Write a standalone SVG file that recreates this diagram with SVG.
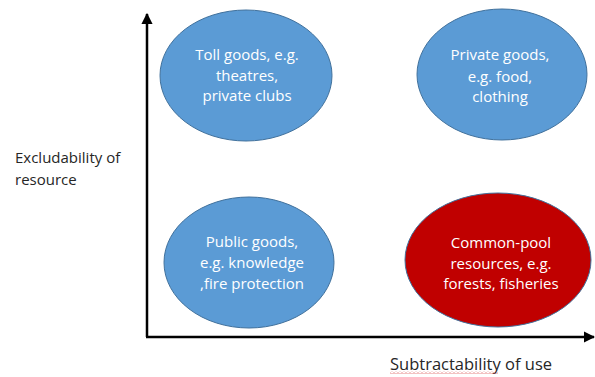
<svg xmlns="http://www.w3.org/2000/svg" width="595" height="377" viewBox="0 0 595 377">
  <style>
    .good { stroke: #41719C; stroke-width: 1; }
    .blue { fill: #5B9BD5; }
    .red { fill: #C00000; }
    .label { font-family: "Open Sans", "Liberation Sans", sans-serif; font-size: 15px; fill: #FFFFFF; text-anchor: middle; }
    .axis-title { font-family: "Open Sans", "Liberation Sans", sans-serif; font-size: 15px; fill: #262626; }
    .axis { stroke: #000000; stroke-width: 2.5; fill: none; }
  </style>
  <defs>
    <marker id="arrow" viewBox="0 0 10 10" refX="9" refY="5" markerWidth="4.6" markerHeight="4.6" orient="auto" markerUnits="strokeWidth">
      <path d="M0,0 L10,5 L0,10 Z" fill="#000000"/>
    </marker>
    <!-- one period of the spell-check squiggle -->
    <pattern id="squiggle" x="0" y="0" width="4" height="3" patternUnits="userSpaceOnUse">
      <path d="M0,2.5 L2,0.5 L4,2.5" fill="none" stroke="#E06666" stroke-width="0.8"/>
    </pattern>
  </defs>
  <rect width="595" height="377" fill="#FFFFFF"/>

  <g id="connectors">
    <path class="axis" d="M147,337 L147,14" marker-end="url(#arrow)"/>
    <path class="axis" d="M146,337 L594,337" marker-end="url(#arrow)"/>
  </g>

  <g id="toll-goods">
    <ellipse class="good blue" cx="246" cy="75.5" rx="86" ry="65.5"/>
    <text class="label" x="247" y="60">Toll goods, e.g.</text>
    <text class="label" x="247" y="81">theatres,</text>
    <text class="label" x="247" y="101">private clubs</text>
  </g>

  <g id="private-goods">
    <ellipse class="good blue" cx="502" cy="74.5" rx="85" ry="65.5"/>
    <text class="label" x="500" y="60">Private goods,</text>
    <text class="label" x="500" y="82">e.g. food,</text>
    <text class="label" x="500" y="102">clothing</text>
  </g>

  <g id="public-goods">
    <ellipse class="good blue" cx="249" cy="262.5" rx="85" ry="65.5"/>
    <text class="label" x="252" y="247">Public goods,</text>
    <text class="label" x="252" y="268">e.g. knowledge</text>
    <text class="label" x="252" y="289">,fire protection</text>
  </g>

  <g id="common-pool">
    <ellipse class="good red" cx="498" cy="260" rx="93" ry="67"/>
    <text class="label" x="501" y="248">Common-pool</text>
    <text class="label" x="501" y="269">resources, e.g.</text>
    <text class="label" x="501" y="289">forests, fisheries</text>
  </g>

  <g id="axis-titles">
    <text class="axis-title" x="15" y="163">Excludability of</text>
    <text class="axis-title" x="15" y="185">resource</text>
    <text class="axis-title" x="390" y="370" style="font-size:16.5px">Subtractability of use</text>
    <!-- spell-check squiggle under the first word -->
    <rect x="390" y="371" width="108" height="3" fill="url(#squiggle)"/>
  </g>
</svg>
